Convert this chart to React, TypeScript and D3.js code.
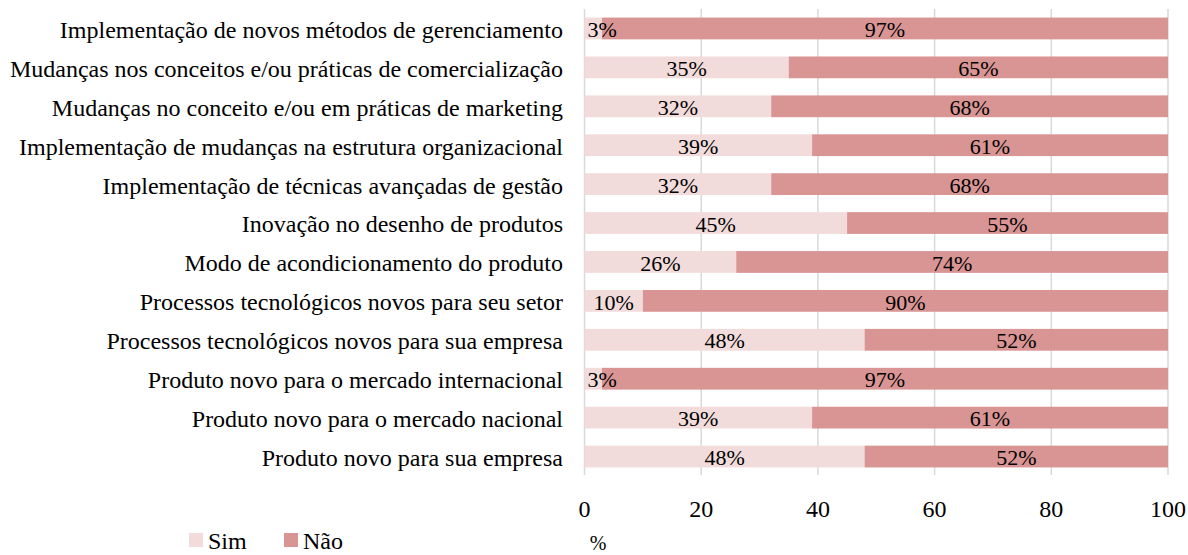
import React from "react";
import * as d3 from "d3";

const categories = [
  "Implementação de novos métodos de gerenciamento",
  "Mudanças nos conceitos e/ou práticas de comercialização",
  "Mudanças no conceito e/ou em práticas de marketing",
  "Implementação de mudanças na estrutura organizacional",
  "Implementação de técnicas avançadas de gestão",
  "Inovação no desenho de produtos",
  "Modo de acondicionamento do produto",
  "Processos tecnológicos novos para seu setor",
  "Processos tecnológicos novos para sua empresa",
  "Produto novo para o mercado internacional",
  "Produto novo para o mercado nacional",
  "Produto novo para sua empresa",
];
const simValues = [3, 35, 32, 39, 32, 45, 26, 10, 48, 3, 39, 48];
const naoValues = [97, 65, 68, 61, 68, 55, 74, 90, 52, 97, 61, 52];
const tickValues = [0, 20, 40, 60, 80, 100];
const seriesNames = ["Sim", "Não"];

const W = 1188;
const H = 555;
const font = "'Liberation Serif', 'Times New Roman', Times, serif";
const colors = ["#f2dcdb", "#d99594"];

export default function App() {
  const x = d3.scaleLinear().domain([0, 100]).range([584.5, 1168]);
  const y = d3
    .scaleBand<string>()
    .domain(categories)
    .range([9, 476])
    .paddingInner(0.44)
    .paddingOuter(0.22);
  const bh = y.bandwidth();

  return (
    <svg
      width={W}
      height={H}
      style={{ position: "absolute", left: 0, top: 0 }}
      fontFamily={font}
    >
      <rect x={0} y={0} width={W} height={H} fill="#fff" />
      {tickValues.map((t) => (
        <line
          key={t}
          x1={x(t)}
          x2={x(t)}
          y1={9}
          y2={475}
          stroke="#d9d9d9"
          strokeWidth={1.5}
        />
      ))}
      {categories.map((c, i) => {
        const y0 = y(c)!;
        const s = simValues[i];
        const n = naoValues[i];
        const cy = y0 + bh / 2 + 1;
        return (
          <g key={c}>
            <rect x={x(0)} y={y0} width={x(s) - x(0)} height={bh} fill={colors[0]} />
            <rect x={x(s)} y={y0} width={x(s + n) - x(s)} height={bh} fill={colors[1]} />
            <text
              x={s < 5 ? x(0) + 3 : (x(0) + x(s)) / 2}
              y={cy}
              dy="0.35em"
              textAnchor={s < 5 ? "start" : "middle"}
              fontSize={22}
              fill="#000"
            >
              {s}%
            </text>
            <text
              x={(x(s) + x(s + n)) / 2}
              y={cy}
              dy="0.35em"
              textAnchor="middle"
              fontSize={22}
              fill="#000"
            >
              {n}%
            </text>
            <text
              x={563}
              y={cy}
              dy="0.35em"
              textAnchor="end"
              fontSize={24}
              fill="#000"
            >
              {c}
            </text>
          </g>
        );
      })}
      {tickValues.map((t) => (
        <text
          key={t}
          x={x(t)}
          y={517}
          textAnchor="middle"
          fontSize={24}
          fill="#000"
        >
          {t}
        </text>
      ))}
      <text x={598} y={550} textAnchor="middle" fontSize={20} fill="#000">
        %
      </text>
      {seriesNames.map((name, i) => {
        const lx = 189 + i * 95;
        return (
          <g key={name}>
            <rect x={lx} y={533} width={14} height={14} fill={colors[i]} />
            <text x={lx + 19} y={549} fontSize={24} fill="#000">
              {name}
            </text>
          </g>
        );
      })}
    </svg>
  );
}
